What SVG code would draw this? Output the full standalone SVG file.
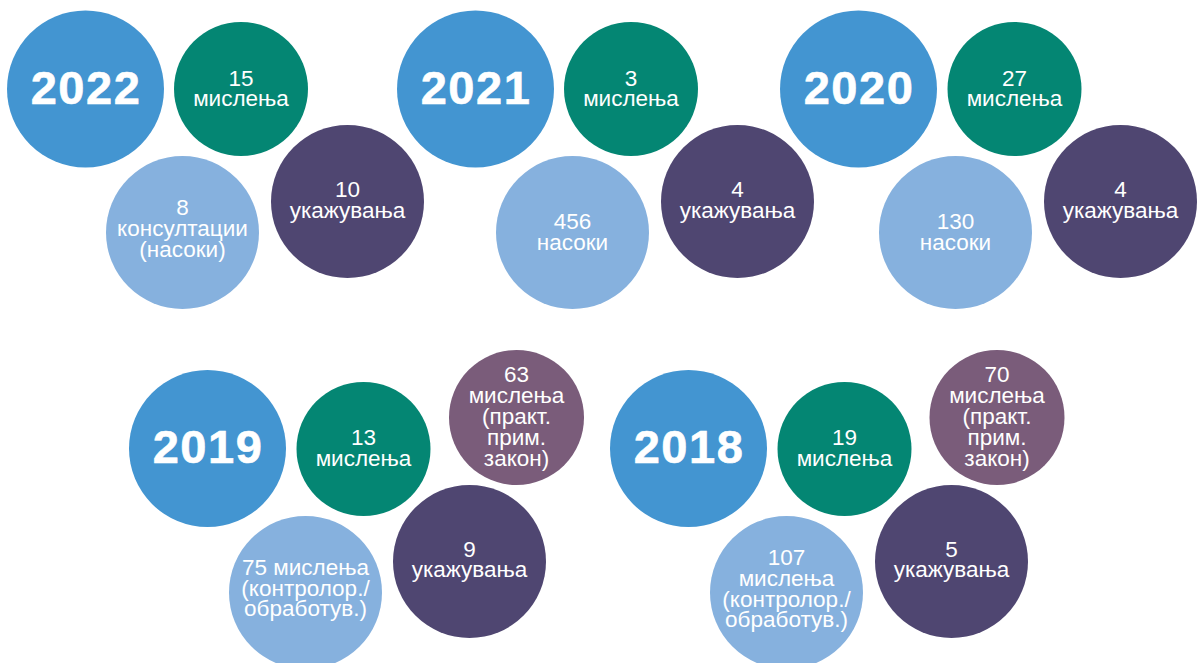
<svg xmlns="http://www.w3.org/2000/svg" width="1201" height="663" viewBox="0 0 1201 663">
<style>
.yr{fill:#4395d1}.gr{fill:#048673}.lb{fill:#86b1de}.pu{fill:#4f4671}.mv{fill:#7a5c7a}
text{font-family:"Liberation Sans",Arial,sans-serif;fill:#fff;text-anchor:middle}
.y{font-size:47px;font-weight:bold;letter-spacing:1.5px;stroke:#fff;stroke-width:0.6px}
.t{font-size:22.5px}
</style>
<rect width="1201" height="663" fill="#fff"/>
<g id="y2022"><circle class="yr" cx="85.5" cy="89" r="78.5"/><text class="y" x="86" y="104">2022</text></g>
<g id="m2022"><circle class="gr" cx="241" cy="89" r="67"/><text class="t" x="241"><tspan x="241" y="86">15</tspan><tspan x="241" y="106">мислења</tspan></text></g>
<g id="k2022"><circle class="lb" cx="182.5" cy="232.5" r="76.5"/><text class="t"><tspan x="182.5" y="215">8</tspan><tspan x="182.5" y="236">консултации</tspan><tspan x="182.5" y="257">(насоки)</tspan></text></g>
<g id="u2022"><circle class="pu" cx="347.5" cy="201.5" r="76.5"/><text class="t"><tspan x="347.5" y="197">10</tspan><tspan x="347.5" y="218">укажувања</tspan></text></g>

<g id="y2021"><circle class="yr" cx="475.5" cy="89" r="78.5"/><text class="y" x="476" y="104">2021</text></g>
<g id="m2021"><circle class="gr" cx="631" cy="89" r="67"/><text class="t"><tspan x="631" y="86">3</tspan><tspan x="631" y="106">мислења</tspan></text></g>
<g id="n2021"><circle class="lb" cx="572.5" cy="232.5" r="76.5"/><text class="t"><tspan x="572.5" y="229">456</tspan><tspan x="572.5" y="250">насоки</tspan></text></g>
<g id="u2021"><circle class="pu" cx="737.5" cy="201.5" r="76.5"/><text class="t"><tspan x="737.5" y="197">4</tspan><tspan x="737.5" y="218">укажувања</tspan></text></g>

<g id="y2020"><circle class="yr" cx="858.5" cy="89" r="78.5"/><text class="y" x="859" y="104">2020</text></g>
<g id="m2020"><circle class="gr" cx="1014.5" cy="89" r="67"/><text class="t"><tspan x="1014.5" y="86">27</tspan><tspan x="1014.5" y="106">мислења</tspan></text></g>
<g id="n2020"><circle class="lb" cx="955.5" cy="232.5" r="76.5"/><text class="t"><tspan x="955.5" y="229">130</tspan><tspan x="955.5" y="250">насоки</tspan></text></g>
<g id="u2020"><circle class="pu" cx="1120.5" cy="201.5" r="76.5"/><text class="t"><tspan x="1120.5" y="197">4</tspan><tspan x="1120.5" y="218">укажувања</tspan></text></g>

<g id="y2019"><circle class="yr" cx="207.5" cy="448.5" r="78.5"/><text class="y" x="208" y="463">2019</text></g>
<g id="m2019"><circle class="gr" cx="363.5" cy="449" r="67"/><text class="t"><tspan x="363.5" y="445">13</tspan><tspan x="363.5" y="466">мислења</tspan></text></g>
<g id="p2019"><circle class="mv" cx="516.5" cy="417.5" r="67.5"/><text class="t"><tspan x="516.5" y="382">63</tspan><tspan x="516.5" y="403">мислења</tspan><tspan x="516.5" y="424">(практ.</tspan><tspan x="516.5" y="445">прим.</tspan><tspan x="516.5" y="466">закон)</tspan></text></g>
<g id="k2019"><circle class="lb" cx="305.5" cy="592.5" r="76.5"/><text class="t"><tspan x="305.5" y="575">75 мислења</tspan><tspan x="305.5" y="596">(контролор./</tspan><tspan x="305.5" y="616">обработув.)</tspan></text></g>
<g id="u2019"><circle class="pu" cx="469.5" cy="561.5" r="76.5"/><text class="t"><tspan x="469.5" y="557">9</tspan><tspan x="469.5" y="577">укажувања</tspan></text></g>

<g id="y2018"><circle class="yr" cx="688.5" cy="448.5" r="78.5"/><text class="y" x="689" y="463">2018</text></g>
<g id="m2018"><circle class="gr" cx="844.5" cy="449" r="67"/><text class="t"><tspan x="844.5" y="445">19</tspan><tspan x="844.5" y="466">мислења</tspan></text></g>
<g id="p2018"><circle class="mv" cx="997" cy="417.5" r="67.5"/><text class="t"><tspan x="997" y="382">70</tspan><tspan x="997" y="403">мислења</tspan><tspan x="997" y="424">(практ.</tspan><tspan x="997" y="445">прим.</tspan><tspan x="997" y="466">закон)</tspan></text></g>
<g id="k2018"><circle class="lb" cx="786.5" cy="592.5" r="76.5"/><text class="t"><tspan x="786.5" y="565">107</tspan><tspan x="786.5" y="586">мислења</tspan><tspan x="786.5" y="607">(контролор./</tspan><tspan x="786.5" y="627">обработув.)</tspan></text></g>
<g id="u2018"><circle class="pu" cx="951.5" cy="561.5" r="76.5"/><text class="t"><tspan x="951.5" y="557">5</tspan><tspan x="951.5" y="577">укажувања</tspan></text></g>
<g id="connectors"/>
</svg>
